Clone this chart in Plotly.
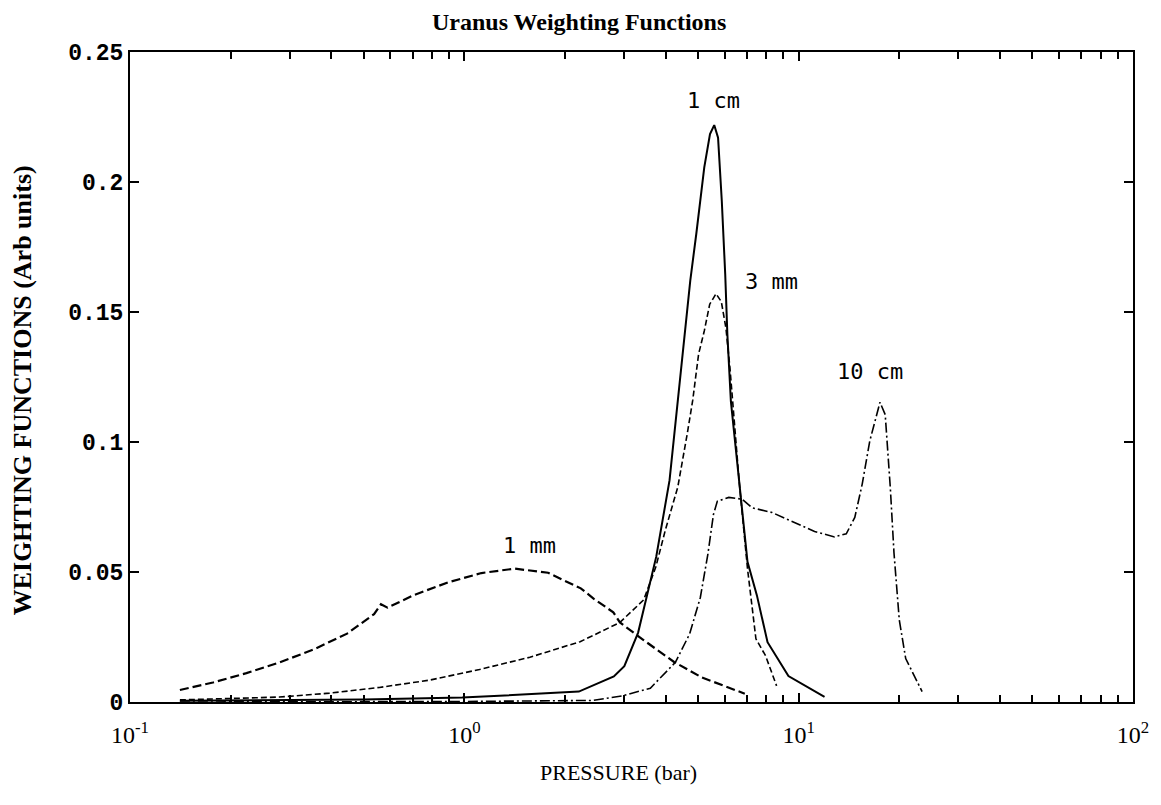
import numpy as np
import plotly.graph_objects as go

# ---- data (pressure in bar, weighting function in arbitrary units) ----
p_1cm = [0.141, 0.50, 0.985, 2.20, 2.80, 3.01, 3.31, 3.52, 3.75, 4.11, 4.41, 4.74, 4.94,
         5.22, 5.43, 5.59, 5.74, 5.89, 6.03, 6.12, 6.27, 6.64, 7.03, 7.50, 8.07, 9.32, 11.95]
w_1cm = [0.0005, 0.0010, 0.0017, 0.0040, 0.0098, 0.0138, 0.0267, 0.0406, 0.0559, 0.0853,
         0.1237, 0.1621, 0.1800, 0.2056, 0.2184, 0.2219, 0.2170, 0.1926, 0.1645, 0.1414,
         0.1156, 0.0847, 0.0539, 0.0410, 0.0230, 0.0100, 0.0020]

p_3mm = [0.141, 0.28, 0.395, 0.557, 0.786, 1.11, 1.57, 2.22, 2.43, 2.79, 2.92, 3.44, 3.74,
         3.99, 4.35, 4.64, 4.82, 5.02, 5.22, 5.42, 5.66, 5.87, 6.06, 6.23, 6.34, 6.64, 7.03,
         7.45, 7.96, 8.59]
w_3mm = [0.0008, 0.0019, 0.0034, 0.0056, 0.0084, 0.0125, 0.0172, 0.0232, 0.0256, 0.0293,
         0.0306, 0.0393, 0.0520, 0.0660, 0.0827, 0.1030, 0.1160, 0.1338, 0.1427, 0.1530,
         0.1570, 0.1540, 0.1438, 0.1284, 0.1156, 0.0847, 0.0513, 0.0243, 0.0178, 0.0062]

p_1mm = [0.141, 0.177, 0.223, 0.281, 0.354, 0.446, 0.537, 0.563, 0.589, 0.709, 0.893, 1.125,
         1.415, 1.78, 2.23, 2.44, 2.79, 2.92, 3.42, 4.24, 5.14, 6.90]
w_1mm = [0.0046, 0.0075, 0.0111, 0.0153, 0.0202, 0.0263, 0.0338, 0.0376, 0.0363, 0.0412,
         0.0460, 0.0496, 0.0513, 0.0497, 0.0437, 0.0397, 0.0345, 0.0306, 0.0240, 0.0154,
         0.0094, 0.0032]

p_10cm = [0.141, 1.0, 2.41, 2.96, 3.60, 4.28, 4.72, 5.08, 5.35, 5.56, 5.71, 6.18, 6.78, 7.26,
          8.32, 9.74, 11.16, 12.80, 13.88, 14.72, 15.49, 16.32, 17.51, 18.15, 18.80, 19.28,
          20.0, 20.9, 23.4]
w_10cm = [0.0000, 0.0002, 0.0006, 0.0023, 0.0053, 0.0153, 0.0262, 0.0402, 0.0568, 0.0721,
          0.0772, 0.0787, 0.0780, 0.0747, 0.0729, 0.0689, 0.0656, 0.0635, 0.0647, 0.0710,
          0.0838, 0.1004, 0.1153, 0.1105, 0.0823, 0.0573, 0.0315, 0.0167, 0.0040]

# curve labels: (text, pressure, weight)
label_text = ["1 cm", "3 mm", "10 cm", "1 mm"]
label_p = [5.58, 8.31, 16.29, 1.57]
label_w = [0.2312, 0.1618, 0.1273, 0.0603]

# axis ticks
x_tickvals = [0.1, 1, 10, 100]
x_ticktext = ["10<sup>-1</sup>", "10<sup>0</sup>", "10<sup>1</sup>", "10<sup>2</sup>"]
x_minorvals = [k * 10.0 ** e for e in (-1, 0, 1) for k in range(2, 10)]
y_tickvals = [0, 0.05, 0.1, 0.15, 0.2, 0.25]
y_ticktext = ["<b>0</b>", "<b>0.05</b>", "<b>0.1</b>", "<b>0.15</b>", "<b>0.2</b>", "<b>0.25</b>"]

fig = go.Figure()
fig.add_trace(go.Scatter(x=p_1cm, y=w_1cm, mode="lines", name="1 cm",
                         line=dict(color="black", width=2, dash="solid")))
fig.add_trace(go.Scatter(x=p_3mm, y=w_3mm, mode="lines", name="3 mm",
                         line=dict(color="black", width=1.6, dash="6px,3px")))
fig.add_trace(go.Scatter(x=p_1mm, y=w_1mm, mode="lines", name="1 mm",
                         line=dict(color="black", width=2.2, dash="9px,4px")))
fig.add_trace(go.Scatter(x=p_10cm, y=w_10cm, mode="lines", name="10 cm",
                         line=dict(color="black", width=1.6, dash="10px,3px,2px,3px")))

for t, p, w in zip(label_text, label_p, label_w):
    fig.add_annotation(x=np.log10(p), y=w, xref="x", yref="y", text=t, showarrow=False,
                       xanchor="center", yanchor="middle",
                       font=dict(family="DejaVu Sans Mono", size=22, color="black"))

# title, axis titles (positions in paper units of the 1006x650 plot box)
fig.add_annotation(x=(580 - 130) / 1006, y=(702 - 22) / 650, xref="paper", yref="paper",
                   xanchor="center", yanchor="middle",
                   text="<b>Uranus Weighting Functions</b>", showarrow=False,
                   font=dict(family="Liberation Serif", size=24, color="black"))
fig.add_annotation(x=(22 - 130) / 1006, y=(702 - 390) / 650, xref="paper", yref="paper",
                   xanchor="center", yanchor="middle", textangle=-90,
                   text="<b>WEIGHTING FUNCTIONS (Arb units)</b>", showarrow=False,
                   font=dict(family="Liberation Serif", size=26, color="black"))
fig.add_annotation(x=(620 - 130) / 1006, y=(702 - 772) / 650, xref="paper", yref="paper",
                   xanchor="center", yanchor="middle",
                   text="PRESSURE (bar)", showarrow=False,
                   font=dict(family="Liberation Serif", size=22, color="black"))

fig.update_xaxes(type="log", range=[-1, 2], showline=True, linecolor="black", linewidth=2,
                 mirror="ticks", ticks="inside", ticklen=9, tickwidth=1.5, tickcolor="black",
                 tickvals=x_tickvals, ticktext=x_ticktext, showgrid=False, zeroline=False,
                 ticklabelstandoff=10,
                 tickfont=dict(family="Liberation Serif", size=24, color="black"),
                 minor=dict(tickvals=x_minorvals, ticks="inside", ticklen=7, tickwidth=1.5,
                            tickcolor="black", showgrid=False))
fig.update_yaxes(range=[0, 0.25], showline=True, linecolor="black", linewidth=2,
                 mirror="ticks", ticks="inside", ticklen=9, tickwidth=1.5, tickcolor="black",
                 tickvals=y_tickvals, ticktext=y_ticktext, showgrid=False, zeroline=False,
                 tickfont=dict(family="Liberation Mono", size=23, color="black"))

fig.update_layout(width=1161, height=805, showlegend=False,
                  margin=dict(l=130, r=25, t=52, b=103),
                  paper_bgcolor="white", plot_bgcolor="white",
                  font=dict(family="Liberation Serif", color="black"))

fig.write_html("out.html")
